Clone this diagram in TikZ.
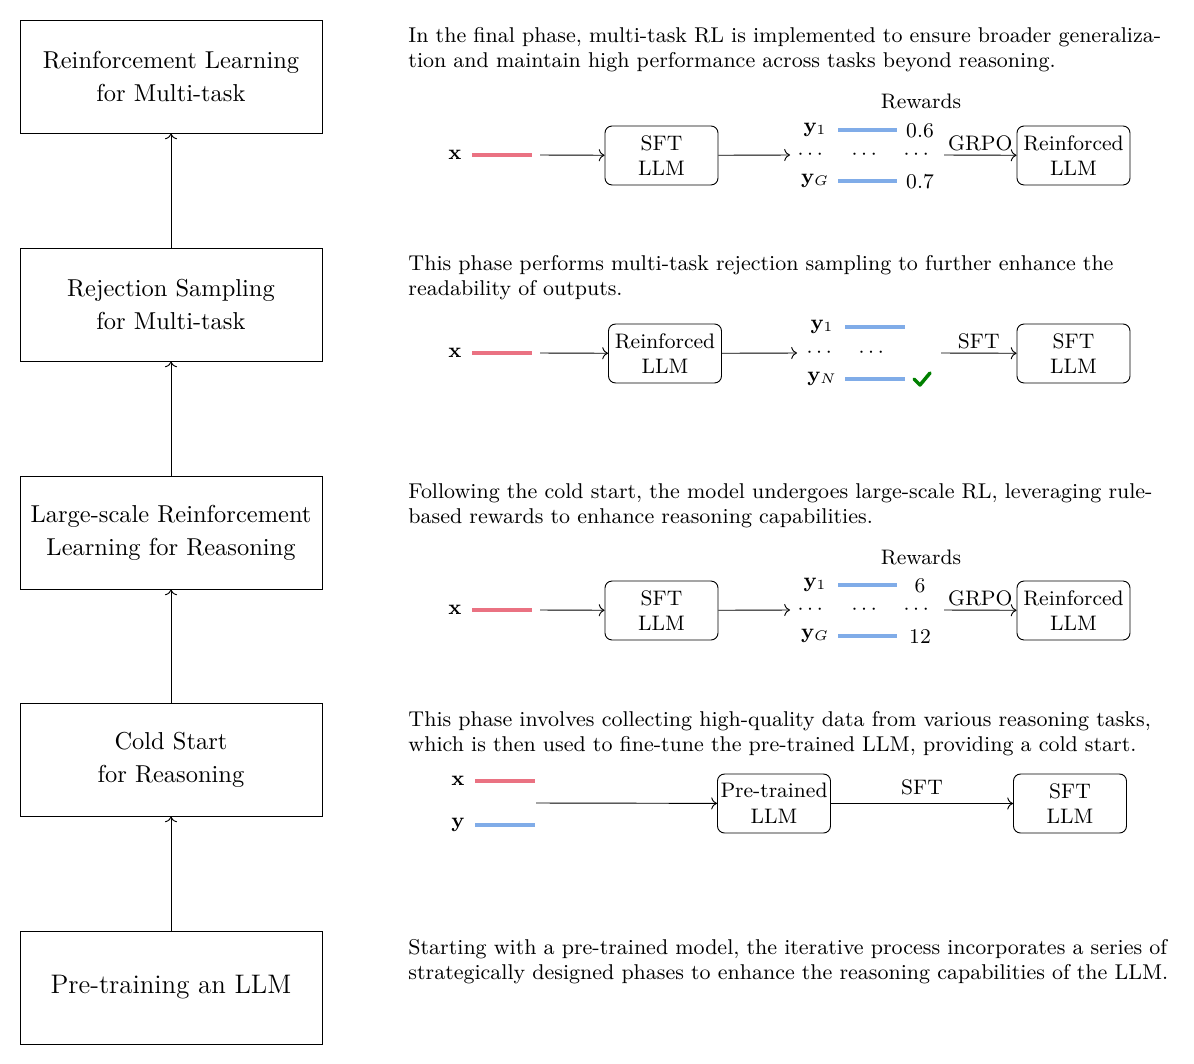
\documentclass[tikz,border=0pt]{standalone}
\usepackage{amsmath}
\usetikzlibrary{arrows.meta,positioning}
\definecolor{lred}{RGB}{234,114,130}
\definecolor{lblue}{RGB}{128,172,232}
\definecolor{chk}{RGB}{0,128,0}
\begin{document}
\begin{tikzpicture}[x=0.4292pt,y=-0.4292pt,
  bigbox/.style={draw,minimum width=129.6pt,minimum height=48.5pt,align=center,inner sep=2pt,font=\fontsize{10.5}{14.2}\selectfont},
  smallbox/.style={draw,rounded corners=3pt,minimum width=48.5pt,minimum height=25.3pt,align=center,inner sep=1pt,font=\small},
  para/.style={anchor=north west,inner sep=0pt,text width=340pt,align=left,font=\fontsize{9.18}{10.9}\selectfont},
  lab/.style={inner sep=1pt,font=\small},
  elab/.style={inner sep=1pt,font=\small,above,yshift=0.6pt},
  arr/.style={->},
  redl/.style={draw=lred,line width=1.6pt},
  bluel/.style={draw=lblue,line width=1.6pt},
]
\useasboundingbox (0,0) rectangle (1194,1064);

% left column
\node[bigbox] (b1) at (171,76.5) {Reinforcement Learning\\for Multi-task};
\node[bigbox] (b2) at (171,304.5) {Rejection Sampling\\for Multi-task};
\node[bigbox] (b3) at (171,532.5) {Large-scale Reinforcement\\Learning for Reasoning};
\node[bigbox] (b4) at (171,759.5) {Cold Start\\for Reasoning};
\node[bigbox,font=\fontsize{11.5}{14}\selectfont] (b5) at (171,987.5) {Pre-training an LLM};
\draw[arr] (b5) -- (b4);
\draw[arr] (b4) -- (b3);
\draw[arr] (b3) -- (b2);
\draw[arr] (b2) -- (b1);

% paragraphs
\node[para] (p1) at (408,27) {In the final phase, multi-task RL is implemented to ensure broader generaliza-\\tion and maintain high performance across tasks beyond reasoning.};
\node[para] (p2) at (408,255) {This phase performs multi-task rejection sampling to further enhance the\\readability of outputs.};
\node[para] (p3) at (408,483) {Following the cold start, the model undergoes large-scale RL, leveraging rule-\\based rewards to enhance reasoning capabilities.};
\node[para] (p4) at (408,711) {This phase involves collecting high-quality data from various reasoning tasks,\\which is then used to fine-tune the pre-trained LLM, providing a cold start.};
\node[para] (p5) at (408,939) {Starting with a pre-trained model, the iterative process incorporates a series of\\strategically designed phases to enhance the reasoning capabilities of the LLM.};

% ---- row 1 (final phase)
\node[lab] (x1) at (455,155) {$\mathbf{x}$};
\coordinate (x1a) at (472,155); \coordinate (x1b) at (532,155);
\draw[redl] (x1a) -- (x1b);
\coordinate (x1c) at (540,155);
\node[smallbox] (s1) at (661.5,155.5) {SFT\\LLM};
\draw[arr] (x1c) -- (s1);
\node[lab] (d1a) at (812,155) {$\cdots$};
\node[lab] (d1b) at (866,155) {$\cdots$};
\node[lab] (d1c) at (918,155) {$\cdots$};
\coordinate (e1) at (790,155);
\draw[arr] (s1) -- (e1);
\node[lab] (y1a) at (815,130) {$\mathbf{y}_1$};
\node[lab] (y1g) at (815,181) {$\mathbf{y}_G$};
\coordinate (l1a) at (838,130); \coordinate (l1b) at (897,130);
\coordinate (l1c) at (838,181); \coordinate (l1d) at (897,181);
\draw[bluel] (l1a) -- (l1b);
\draw[bluel] (l1c) -- (l1d);
\node[lab] (r1a) at (920,131) {0.6};
\node[lab] (r1b) at (920,182) {0.7};
\node[lab] (rw1) at (921,101) {Rewards};
\node[smallbox] (f1) at (1073.5,155.5) {Reinforced\\LLM};
\coordinate (g1) at (944,155);
\draw[arr] (g1) -- node[elab] {GRPO} (f1);

% ---- row 2 (rejection sampling)
\node[lab] (x2) at (455,353) {$\mathbf{x}$};
\coordinate (x2a) at (472,353); \coordinate (x2b) at (532,353);
\draw[redl] (x2a) -- (x2b);
\coordinate (x2c) at (540,353);
\node[smallbox] (s2) at (665,353.5) {Reinforced\\LLM};
\draw[arr] (x2c) -- (s2);
\node[lab] (d2a) at (821,353) {$\cdots$};
\node[lab] (d2b) at (873,353) {$\cdots$};
\coordinate (e2) at (797,353);
\draw[arr] (s2) -- (e2);
\node[lab] (y2a) at (822,327) {$\mathbf{y}_1$};
\node[lab] (y2n) at (822,379) {$\mathbf{y}_N$};
\coordinate (l2a) at (845,327); \coordinate (l2b) at (905,327);
\coordinate (l2c) at (845,379); \coordinate (l2d) at (905,379);
\draw[bluel] (l2a) -- (l2b);
\draw[bluel] (l2c) -- (l2d);
\coordinate (ck1) at (914,379); \coordinate (ck2) at (920,385); \coordinate (ck3) at (930,373);
\draw[chk,line width=1.5pt,line cap=round,line join=round] (ck1) -- (ck2) -- (ck3);
\node[smallbox] (f2) at (1073.5,353.5) {SFT\\LLM};
\coordinate (g2) at (941,353);
\draw[arr] (g2) -- node[elab] {SFT} (f2);

% ---- row 3 (large-scale RL)
\node[lab] (x3) at (455,610) {$\mathbf{x}$};
\coordinate (x3a) at (472,610); \coordinate (x3b) at (532,610);
\draw[redl] (x3a) -- (x3b);
\coordinate (x3c) at (540,610);
\node[smallbox] (s3) at (661.5,610.5) {SFT\\LLM};
\draw[arr] (x3c) -- (s3);
\node[lab] (d3a) at (812,610) {$\cdots$};
\node[lab] (d3b) at (866,610) {$\cdots$};
\node[lab] (d3c) at (918,610) {$\cdots$};
\coordinate (e3) at (790,610);
\draw[arr] (s3) -- (e3);
\node[lab] (y3a) at (815,585) {$\mathbf{y}_1$};
\node[lab] (y3g) at (815,636) {$\mathbf{y}_G$};
\coordinate (l3a) at (838,585); \coordinate (l3b) at (897,585);
\coordinate (l3c) at (838,636); \coordinate (l3d) at (897,636);
\draw[bluel] (l3a) -- (l3b);
\draw[bluel] (l3c) -- (l3d);
\node[lab] (r3a) at (920,586) {6};
\node[lab] (r3b) at (920,637) {12};
\node[lab] (rw3) at (921,557) {Rewards};
\node[smallbox] (f3) at (1073.5,610.5) {Reinforced\\LLM};
\coordinate (g3) at (944,610);
\draw[arr] (g3) -- node[elab] {GRPO} (f3);

% ---- row 4 (cold start)
\node[lab] (x4) at (458,781) {$\mathbf{x}$};
\node[lab] (y4) at (458,825) {$\mathbf{y}$};
\coordinate (x4a) at (475,781); \coordinate (x4b) at (535,781);
\coordinate (y4a) at (475,825); \coordinate (y4b) at (535,825);
\draw[redl] (x4a) -- (x4b);
\draw[bluel] (y4a) -- (y4b);
\coordinate (x4c) at (536,803);
\node[smallbox] (s4) at (774,803.5) {Pre-trained\\LLM};
\draw[arr] (x4c) -- (s4);
\node[smallbox] (f4) at (1070,803.5) {SFT\\LLM};
\draw[arr] (s4) -- node[elab,yshift=2pt] {SFT} (f4);
\end{tikzpicture}
\end{document}
